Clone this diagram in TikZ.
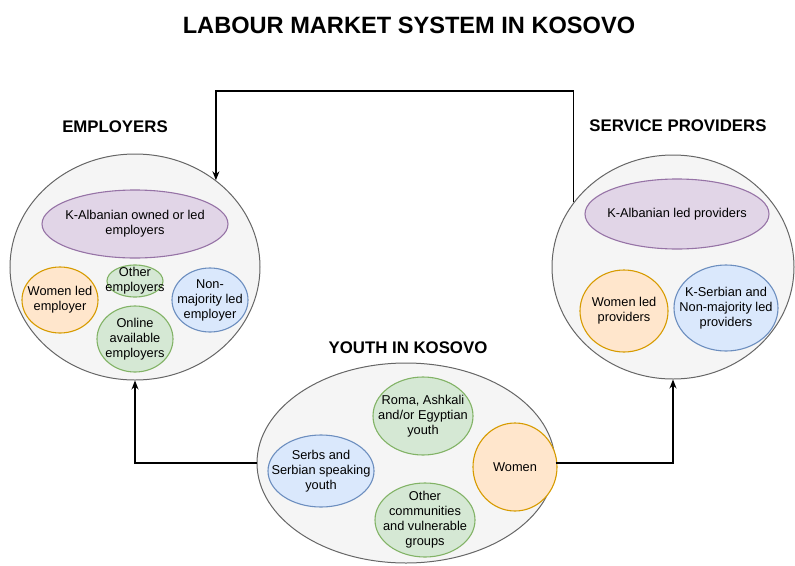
\documentclass[tikz,border=0pt]{standalone}
\usepackage{fontspec}
\setmainfont{Liberation Sans}
\usetikzlibrary{shapes.geometric}
\usetikzlibrary{arrows.meta}

\definecolor{grayfill}{HTML}{F5F5F5}
\definecolor{graydraw}{HTML}{666666}
\definecolor{purplefill}{HTML}{E1D5E7}
\definecolor{purpledraw}{HTML}{9673A6}
\definecolor{orangefill}{HTML}{FFE6CC}
\definecolor{orangedraw}{HTML}{D79B00}
\definecolor{greenfill}{HTML}{D5E8D4}
\definecolor{greendraw}{HTML}{82B366}
\definecolor{bluefill}{HTML}{DAE8FC}
\definecolor{bluedraw}{HTML}{6C8EBF}

\tikzset{
  blob/.style={ellipse, inner sep=0pt, line width=1.1pt},
  txt/.style={align=center, inner sep=0pt, font=\fontsize{12.8}{15}\selectfont},
  group/.style={ellipse, inner sep=0pt, fill=grayfill, draw=graydraw, line width=1pt},
  purple/.style={blob, fill=purplefill, draw=purpledraw},
  orange/.style={blob, fill=orangefill, draw=orangedraw},
  green/.style={blob, fill=greenfill, draw=greendraw},
  blue/.style={blob, fill=bluefill, draw=bluedraw},
  heading/.style={font=\fontsize{16.8}{18}\selectfont\bfseries},
  arr/.style={-{Stealth[length=9pt,width=7pt]}, line width=1.2pt}
}

\begin{document}
\begin{tikzpicture}[x=1pt,y=-1pt]
\useasboundingbox (0,0) rectangle (795,565);

\node (title) at (409,25) {\fontsize{23.6}{25}\selectfont\bfseries LABOUR MARKET SYSTEM IN KOSOVO};

% employers
\node[heading] (emphead) at (115,127) {EMPLOYERS};
\node[group, minimum width=250, minimum height=226] (emp) at (135,267) {};
\node[purple, minimum width=186, minimum height=68] (empalb) at (135,224) {};
\node[orange, minimum width=76, minimum height=66] (empwomen) at (60,300) {};
\node[green, minimum width=56, minimum height=32] (empother) at (135,281) {};
\node[green, minimum width=76, minimum height=66] (emponline) at (135,339) {};
\node[blue, minimum width=76, minimum height=64] (empnonmaj) at (210,300) {};
\node[txt] at (empalb) {K-Albanian owned or led\\employers};
\node[txt] at (empwomen) {Women led\\employer};
\node[txt] at (empother) {Other\\employers};
\node[txt] at (emponline) {Online\\available\\employers};
\node[txt] at (empnonmaj) {Non-\\majority led\\employer};

% service providers
\node[heading] (provhead) at (678,126) {SERVICE PROVIDERS};
\node[group, minimum width=242, minimum height=224] (prov) at (673,267) {};
\node[purple, minimum width=184, minimum height=70] (provalb) at (677,214) {};
\node[orange, minimum width=88, minimum height=82] (provwomen) at (624,311) {};
\node[blue, minimum width=104, minimum height=86] (provserb) at (726,308) {};
\node[txt] at (provalb) {K-Albanian led providers};
\node[txt] at (provwomen) {Women led\\providers};
\node[txt] at (provserb) {K-Serbian and\\Non-majority led\\providers};

% youth
\node[heading] (youthhead) at (408,348) {YOUTH IN KOSOVO};
\node[group, minimum width=298, minimum height=200] (youth) at (406,463) {};
\node[green, minimum width=100, minimum height=78] (roma) at (423,416) {};
\node[blue, minimum width=106, minimum height=72] (serbs) at (321,471) {};
\node[orange, minimum width=84, minimum height=88] (women) at (515,467) {};
\node[green, minimum width=100, minimum height=74] (othercom) at (425,520) {};
\node[txt] at (roma) {Roma, Ashkali\\and/or Egyptian\\youth};
\node[txt] at (serbs) {Serbs and\\Serbian speaking\\youth};
\node[txt] at (women) {Women};
\node[txt] at (othercom) {Other\\communities\\and vulnerable\\groups};

% connectors
\coordinate (top) at (0,91);
\draw[arr] (prov.147) -- (prov.147 |- top) -| (emp.47);
\draw[arr] (youth.west) -| (emp.south);
\draw[arr] (youth.east) -| (prov.south);

\end{tikzpicture}
\end{document}
